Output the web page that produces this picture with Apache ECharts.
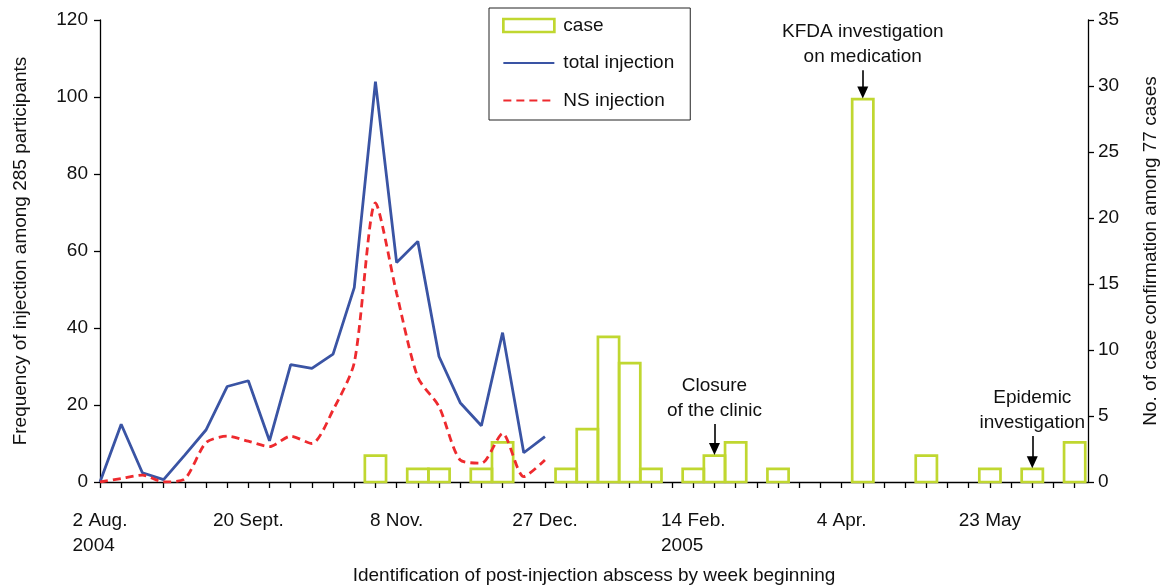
<!DOCTYPE html>
<html>
<head>
<meta charset="utf-8">
<script src="https://cdn.jsdelivr.net/npm/echarts@6/dist/echarts.min.js"></script>
<style>html,body{margin:0;padding:0;background:#fff}#c{width:1164px;height:585px}</style>
</head>
<body>
<div id="c"></div>
<script>
// Weeks are counted from 2 Aug. 2004 (week 0)
var tickWeeks = [0, 7, 14, 21, 28, 35, 42];
var tickLabels = ['2 Aug.\n2004', '20 Sept.', '8 Nov.', '27 Dec.', '14 Feb.\n2005', '4 Apr.', '23 May'];

// Injection frequencies, weeks 0..21
var totalInjection = [0, 15, 2.4, 0.6, 7, 13.5, 24.8, 26.3, 10.7, 30.5, 29.5, 33.2, 50.5, 104, 57, 62.5, 32.6, 20.6, 14.6, 38.8, 7.6, 11.8];
var nsInjection    = [0, 0.9, 1.8, 0, 0.8, 10.2, 11.9, 10.6, 9.2, 11.9, 10.0, 18.7, 31, 72.5, 49, 27.2, 19.6, 5.7, 4.9, 12.6, 1.4, 5.7];

// Case confirmations by week
var caseWeeks  = [13, 15, 16, 18, 19, 22, 23, 24, 25, 26, 28, 29, 30, 32, 36, 39, 42, 44, 46];
var caseCounts = [2, 1, 1, 1, 3, 1, 4, 11, 9, 1, 1, 2, 3, 1, 29, 2, 1, 1, 3];

// Annotations: week, arrow top and arrow end on the case axis
var notes = [
  {text: 'KFDA investigation\non medication', week: 36, from: 31.2, to: 29.5},
  {text: 'Closure\nof the clinic', week: 29, from: 4.4, to: 2.5},
  {text: 'Epidemic\ninvestigation', week: 44, from: 3.48, to: 1.5}
];

var FONT = '"Liberation Sans", Arial, Helvetica, sans-serif';
var FS = 19;
var BLUE = '#3a54a4', RED = '#ee2a2e', GREEN = '#c0d730';

var totalData = totalInjection.map(function (v, i) { return [i, v]; });
var nsData = nsInjection.map(function (v, i) { return [i, v]; });
var caseData = caseWeeks.map(function (w, i) { return [w, caseCounts[i]]; });

var labelMap = {};
tickWeeks.forEach(function (w, i) { labelMap[w] = tickLabels[i]; });

function renderCase(params, api) {
  var w = api.value(0), v = api.value(1);
  var p0 = api.coord([w - 0.5, v]);
  var p1 = api.coord([w + 0.5, 0]);
  return {
    type: 'rect',
    shape: {x: p0[0], y: p0[1], width: p1[0] - p0[0], height: p1[1] - p0[1]},
    style: {fill: 'rgba(255,255,255,0)', stroke: GREEN, lineWidth: 2.7}
  };
}

var chart = echarts.init(document.getElementById('c'), null, {renderer: 'canvas'});
chart.setOption({
  animation: false,
  textStyle: {fontFamily: FONT},
  grid: {left: 100, right: 76, top: 20, bottom: 103, containLabel: false, outerBoundsMode: 'none'},
  legend: {
    orient: 'vertical', left: 489, top: 8,
    padding: [8, 16, 10, 13],
    borderColor: '#222', borderWidth: 1,
    itemWidth: 51, itemHeight: 13, itemGap: 18.5,
    textStyle: {fontFamily: FONT, fontSize: FS, color: '#111', padding: [0, 0, 0, 4]},
    data: [
      {name: 'case', icon: 'rect', itemStyle: {color: 'rgba(255,255,255,0)', borderColor: GREEN, borderWidth: 2.7}},
      {name: 'total injection', itemStyle: {opacity: 0}},
      {name: 'NS injection', itemStyle: {opacity: 0}}
    ]
  },
  xAxis: {
    type: 'value', min: 0, max: 46.63, interval: 1,
    name: 'Identification of post-injection abscess by week beginning',
    nameLocation: 'middle', nameGap: 84,
    nameTextStyle: {fontFamily: FONT, fontSize: FS, color: '#111'},
    axisLine: {show: true, lineStyle: {color: '#000', width: 1.3}},
    axisTick: {show: true, length: 6, lineStyle: {color: '#000', width: 1.3}},
    splitLine: {show: false},
    axisLabel: {
      margin: 26, color: '#111', fontSize: FS, fontFamily: FONT, showMaxLabel: false,
      lineHeight: 25,
      formatter: function (v) {
        var t = labelMap[Math.round(v)];
        if (t === undefined || Math.abs(v - Math.round(v)) > 1e-6) return '';
        return t.split('\n').map(function (s) { return '{l|' + s + '}'; }).join('\n');
      },
      rich: {l: {align: 'left', fontSize: FS, fontFamily: FONT, color: '#111', lineHeight: 25}}
    }
  },
  yAxis: [{
    type: 'value', min: 0, max: 120, interval: 20, position: 'left',
    name: 'Frequency of injection among 285 participants',
    nameLocation: 'middle', nameGap: 70, nameRotate: 90,
    nameTextStyle: {fontFamily: FONT, fontSize: FS, color: '#111'},
    axisLine: {show: true, lineStyle: {color: '#000', width: 1.3}},
    axisTick: {show: true, length: 6, lineStyle: {color: '#000', width: 1.3}},
    splitLine: {show: false},
    axisLabel: {margin: 12, color: '#111', fontSize: FS, fontFamily: FONT}
  }, {
    type: 'value', min: 0, max: 35, interval: 5, position: 'right',
    name: 'No. of case confirmation among 77 cases',
    nameLocation: 'middle', nameGap: 53, nameRotate: 90,
    nameTextStyle: {fontFamily: FONT, fontSize: FS, color: '#111'},
    axisLine: {show: true, lineStyle: {color: '#000', width: 1.3}},
    axisTick: {show: true, length: 6, lineStyle: {color: '#000', width: 1.3}},
    splitLine: {show: false},
    axisLabel: {margin: 10, color: '#111', fontSize: FS, fontFamily: FONT}
  }],
  series: [{
    name: 'case', type: 'custom', yAxisIndex: 1,
    data: caseData, renderItem: renderCase,
    encode: {x: 0, y: 1},
    itemStyle: {color: 'rgba(255,255,255,0)', borderColor: GREEN, borderWidth: 2.7},
    markLine: {
      silent: true, animation: false,
      symbol: ['none', 'triangle'], symbolSize: [11, 12], symbolOffset: [0, 0],
      lineStyle: {color: '#000', width: 1.6, type: 'solid'},
      label: {show: true, position: 'start', distance: 1, color: '#111', fontSize: FS, fontFamily: FONT, lineHeight: 25, align: 'center'},
      data: notes.map(function (n) {
        return [{coord: [n.week, n.from], label: {formatter: n.text}}, {coord: [n.week, n.to]}];
      })
    }
  }, {
    name: 'total injection', type: 'line', yAxisIndex: 0,
    data: totalData, symbol: 'none', showSymbol: false,
    lineStyle: {color: BLUE, width: 2.8}, itemStyle: {color: BLUE}
  }, {
    name: 'NS injection', type: 'line', yAxisIndex: 0,
    data: nsData, symbol: 'none', showSymbol: false, smooth: 0.25,
    lineStyle: {color: RED, width: 2.8, type: [8, 5]}, itemStyle: {color: RED}
  }]
});
</script>
</body>
</html>
